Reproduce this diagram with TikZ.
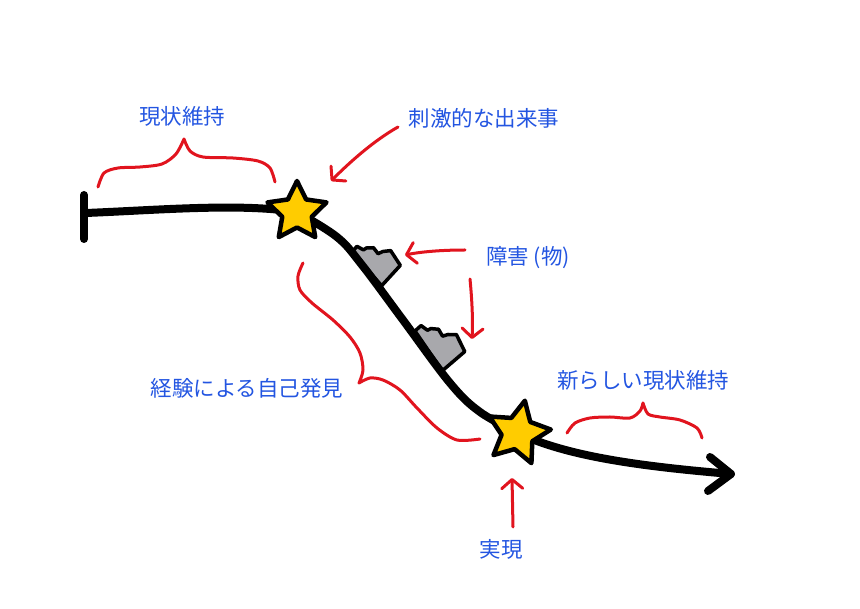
\documentclass[tikz,border=0pt]{standalone}
\usepackage{fontspec}
\newfontfamily\jp{Noto Sans CJK JP}
\usetikzlibrary{shapes.geometric,arrows.meta}
\definecolor{lblblue}{RGB}{35,85,225}
\definecolor{brred}{RGB}{225,20,30}
\definecolor{stargold}{RGB}{255,204,0}
\definecolor{obsgray}{RGB}{168,168,172}
\begin{document}
\begin{tikzpicture}[x=1pt,y=-1pt,
  lbl/.style={text=lblblue,font=\jp\fontsize{21.5}{25}\selectfont,inner sep=0pt},
  brace/.style={draw=brred,line width=3pt,line cap=round,line join=round},
  redarrow/.style={brace,-{Straight Barb[length=9pt,width=21pt,round]}},
  mainline/.style={line width=8pt,line cap=round,line join=round},
  starnode/.style={star,star points=5,star point ratio=2.0,draw,line width=4.5pt,line join=round,fill=stargold,inner sep=0pt,minimum size=62pt},
  obstacle/.style={fill=obsgray,draw,line width=3.5pt,line join=round}]
\useasboundingbox (0,0) rectangle (860,609);

% labels
\node[lbl] (lA) at (182,116) {現状維持};
\node[lbl] (lB) at (484,118) {刺激的な出来事};
\node[lbl] (lC) at (528,258) {障害 (物)};
\node[lbl] (lD) at (247,388) {経験による自己発見};
\node[lbl] (lE) at (643,380) {新らしい現状維持};
\node[lbl] (lF) at (501,549) {実現};

% key coordinates
\coordinate (c1) at (297,212);
\coordinate (c2) at (518,433);
\coordinate (tickTop) at (84,195);
\coordinate (tickBot) at (84,239);
\coordinate (start) at (86,213);
\coordinate (tip) at (731,474);

% obstacles
\begin{scope}[shift={(352,252)},x={(0.659pt,-0.75pt)},y={(0.75pt,0.659pt)}]
  \draw[obstacle] (0,0) -- (-1,7.5) -- (6,10) -- (6.5,13.5) -- (11,19) -- (18.5,18.5) -- (20,23.5) -- (24.5,30) -- (42,27.5) -- (45,0) -- cycle;
\end{scope}
\begin{scope}[shift={(415,331)},x={(0.56pt,-0.82pt)},y={(0.82pt,0.56pt)},scale=1.08]
  \draw[obstacle] (0,0) -- (-1,7.5) -- (6,10) -- (6.5,13.5) -- (11,19) -- (18.5,18.5) -- (20,23.5) -- (24.5,30) -- (42,27.5) -- (45,0) -- cycle;
\end{scope}

% main line
\draw[mainline] (tickTop) -- (tickBot);
\draw[mainline] (start) .. controls (160,210) and (240,203) .. (c1);
\draw[mainline] plot[smooth,tension=0.6] coordinates {(297,212) (337,237) (362,265) (403,320) (450,383) (480,412) (518,433)};
\draw[mainline] (c2) .. controls (570,458) and (650,467) .. (tip);
\draw[mainline] (710,457) -- (tip) -- (708,491);

% stars
\node[starnode,minimum size=62pt] (s1) at (c1) {};
\node[starnode,rotate=-12,minimum size=66pt] (s2) at (c2) {};

% braces
\draw[brace] plot[smooth] coordinates {(98,187) (104,173) (118,168) (140,167) (162,164) (176,154) (184,139)};
\draw[brace] plot[smooth] coordinates {(184,139) (190,151) (203,157) (233,158) (258,161) (270,168) (275,182)};
\draw[brace] plot[smooth] coordinates {(303,263) (298,276) (300,290) (312,303) (333,320) (350,337) (360,353) (363,370) (359,383)};
\draw[brace] plot[smooth] coordinates {(359,383) (370,378) (383,380) (400,390) (417,408) (437,428) (457,440) (480,439)};
\draw[brace] plot[smooth] coordinates {(567,433) (575,423) (590,418) (610,417) (630,418) (640,411) (643,403)};
\draw[brace] plot[smooth] coordinates {(643,403) (648,414) (660,417) (680,420) (697,428) (702,438)};

% red arrows
\coordinate (a1s) at (398,127);
\coordinate (a1e) at (331,181);
\coordinate (a2s) at (465,250);
\coordinate (a2e) at (405,255);
\coordinate (a3s) at (470,279);
\coordinate (a3e) at (472,339);
\coordinate (a4s) at (513,527);
\coordinate (a4e) at (512,478);
\draw[redarrow] (a1s) .. controls (375,140) and (352,160) .. (a1e);
\draw[redarrow] (a2s) .. controls (440,250) and (420,252) .. (a2e);
\draw[redarrow] (a3s) .. controls (472,300) and (473,320) .. (a3e);
\draw[redarrow] (a4s) -- (a4e);
\end{tikzpicture}
\end{document}
